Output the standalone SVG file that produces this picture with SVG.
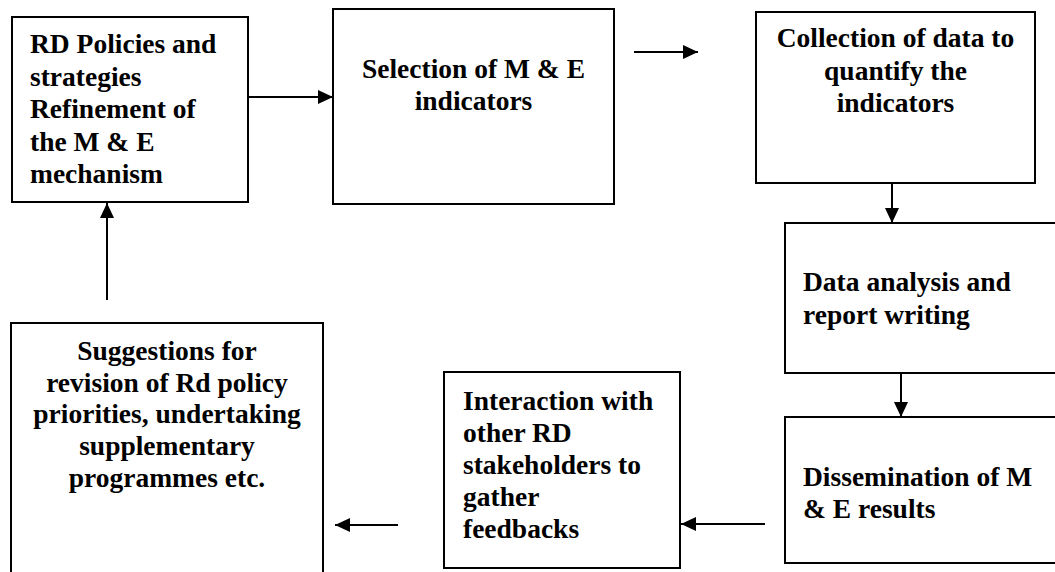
<svg xmlns="http://www.w3.org/2000/svg" width="1055" height="572" viewBox="0 0 1055 572">
  <style>
    .box { fill: #ffffff; stroke: #000000; stroke-width: 2; }
    .lbl { font-family: "Liberation Serif", "Times New Roman", serif; font-weight: bold; font-size: 27.5px; fill: #000000; }
    .mid { text-anchor: middle; }
    .link { stroke: #000000; stroke-width: 2; fill: none; marker-end: url(#head); }
  </style>
  <defs>
    <marker id="head" viewBox="0 0 15 14" refX="15" refY="7" markerWidth="15" markerHeight="14" markerUnits="userSpaceOnUse" orient="auto">
      <path d="M0,0 L15,7 L0,14 z" fill="#000000"/>
    </marker>
  </defs>
  <rect width="1055" height="572" fill="#ffffff"/>

  <!-- process steps -->
  <g id="policies">
    <rect class="box" x="12" y="17" width="236" height="185"/>
    <text class="lbl" x="30" y="53">RD Policies and</text>
    <text class="lbl" x="30" y="85.5">strategies</text>
    <text class="lbl" x="30" y="118">Refinement of</text>
    <text class="lbl" x="30" y="150.5">the M &amp; E</text>
    <text class="lbl" x="30" y="183">mechanism</text>
  </g>

  <g id="selection">
    <rect class="box" x="333" y="9" width="281" height="195"/>
    <text class="lbl mid" x="473.5" y="78">Selection of M &amp; E</text>
    <text class="lbl mid" x="473.5" y="110">indicators</text>
  </g>

  <g id="collection">
    <rect class="box" x="756" y="12" width="279" height="171"/>
    <text class="lbl mid" x="895.5" y="47">Collection of data to</text>
    <text class="lbl mid" x="895.5" y="79.5">quantify the</text>
    <text class="lbl mid" x="895.5" y="112">indicators</text>
  </g>

  <g id="analysis">
    <rect class="box" x="785" y="223" width="276" height="150"/>
    <text class="lbl" x="803" y="291">Data analysis and</text>
    <text class="lbl" x="803" y="323.5">report writing</text>
  </g>

  <g id="dissemination">
    <rect class="box" x="785" y="417" width="276" height="146"/>
    <text class="lbl" x="803" y="486">Dissemination of M</text>
    <text class="lbl" x="803" y="518">&amp; E results</text>
  </g>

  <g id="interaction">
    <rect class="box" x="444" y="372" width="236" height="196"/>
    <text class="lbl" x="463" y="410">Interaction with</text>
    <text class="lbl" x="463" y="442">other RD</text>
    <text class="lbl" x="463" y="474">stakeholders to</text>
    <text class="lbl" x="463" y="506">gather</text>
    <text class="lbl" x="463" y="538">feedbacks</text>
  </g>

  <g id="suggestions">
    <rect class="box" x="11" y="323" width="312" height="260"/>
    <text class="lbl mid" x="167" y="359.5">Suggestions for</text>
    <text class="lbl mid" x="167" y="391.5">revision of Rd policy</text>
    <text class="lbl mid" x="167" y="423">priorities, undertaking</text>
    <text class="lbl mid" x="167" y="455">supplementary</text>
    <text class="lbl mid" x="167" y="487">programmes etc.</text>
  </g>

  <!-- connectors -->
  <g id="connectors">
    <line class="link" x1="248" y1="97" x2="333" y2="97"/>
    <line class="link" x1="634" y1="52" x2="698" y2="52"/>
    <line class="link" x1="892" y1="183" x2="892" y2="223"/>
    <line class="link" x1="901" y1="373" x2="901" y2="417"/>
    <line class="link" x1="765" y1="524" x2="681" y2="524"/>
    <line class="link" x1="398" y1="525" x2="335" y2="525"/>
    <line class="link" x1="107" y1="300" x2="107" y2="203"/>
  </g>
</svg>
